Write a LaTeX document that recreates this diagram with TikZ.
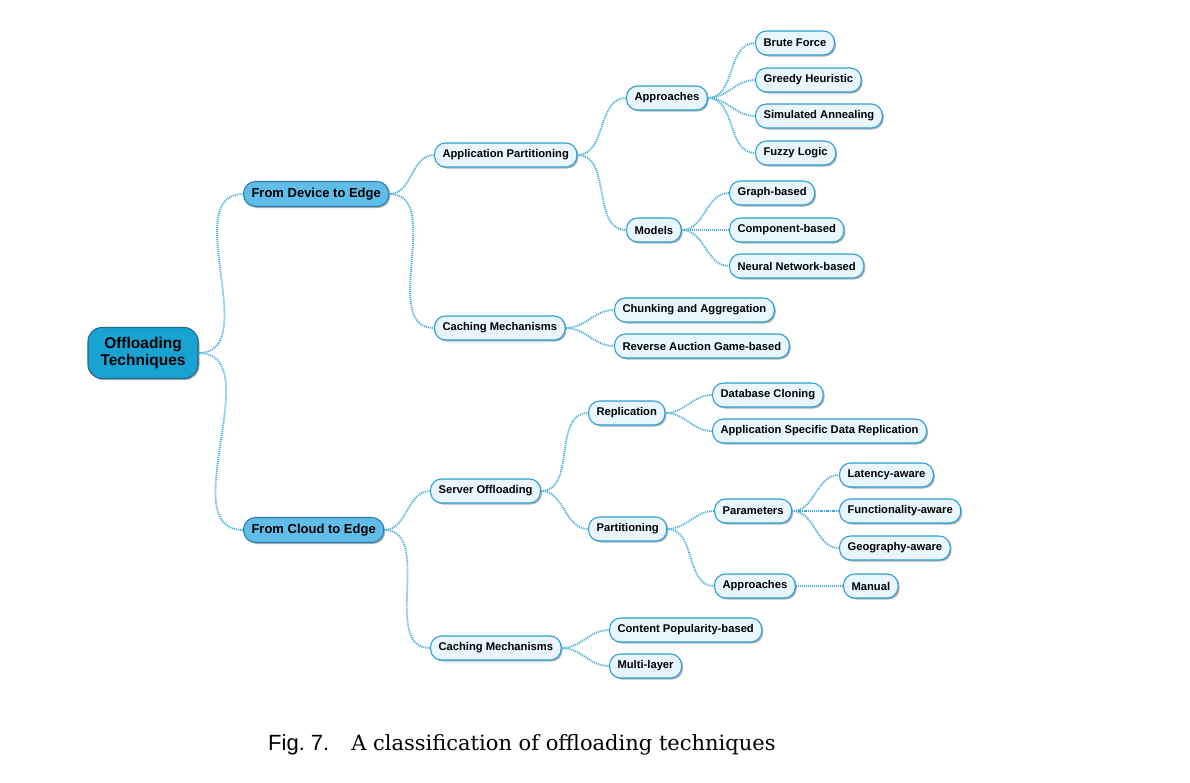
\documentclass[tikz,border=0pt]{standalone}
\usepackage{fontspec}
\setsansfont{Liberation Sans}
\newfontfamily\capserif{DejaVu Serif}
\usetikzlibrary{positioning,shadows}
\definecolor{linkblue}{HTML}{3AA8DC}
\definecolor{leafline}{HTML}{2B9FD6}
\definecolor{leaffill}{HTML}{EAF6FD}
\definecolor{midline}{HTML}{2A7EAE}
\definecolor{midfill}{HTML}{5FBDE8}
\definecolor{rootline}{HTML}{1F6688}
\definecolor{rootfill}{HTML}{18A3D3}

\begin{document}
\begin{tikzpicture}[x=1pt, y=-1pt,
  shade/.style={drop shadow={shadow xshift=1.5pt, shadow yshift=-1.5pt, opacity=0.3, fill=black}},
  leaf/.style={shade, draw=leafline, fill=leaffill, line width=1.1pt, rounded corners=11pt,
    minimum height=24pt, inner xsep=8pt, anchor=west, font=\sffamily\bfseries\fontsize{11.2}{13}\selectfont},
  branch/.style={shade, draw=midline, fill=midfill, line width=1.1pt, rounded corners=12pt,
    minimum height=25pt, inner xsep=8pt, anchor=west, font=\sffamily\bfseries\fontsize{13}{15}\selectfont},
  topic/.style={shade, draw=rootline, fill=rootfill, line width=1.1pt, rounded corners=14pt,
    minimum width=110pt, minimum height=51pt, align=center, font=\sffamily\bfseries\fontsize{15.5}{17}\selectfont},
  link/.style={draw=linkblue, line width=1.8pt, dash pattern=on 1pt off 1pt, out=0, in=180}]
\useasboundingbox (0,0) rectangle (1190,782);

% root and first level
\node[topic] (root) at (143,353) {Offloading\\Techniques};
\node[branch] (dev) at (243,194) {From Device to Edge};
\node[branch] (cld) at (243,530) {From Cloud to Edge};

% device to edge
\node[leaf] (apppart) at (434,155) {Application Partitioning};
\node[leaf] (devcache) at (434,328) {Caching Mechanisms};
\node[leaf] (appr) at (626,98) {Approaches};
\node[leaf] (models) at (626,230) {Models};
\node[leaf] (brute) at (755,43) {Brute Force};
\node[leaf] (greedy) at (755,80) {Greedy Heuristic};
\node[leaf] (anneal) at (755,116) {Simulated Annealing};
\node[leaf] (fuzzy) at (755,153) {Fuzzy Logic};
\node[leaf] (graph) at (729,193) {Graph-based};
\node[leaf] (comp) at (729,230) {Component-based};
\node[leaf] (neural) at (729,266) {Neural Network-based};
\node[leaf] (chunk) at (614,310) {Chunking and Aggregation};
\node[leaf] (auction) at (614,346) {Reverse Auction Game-based};

% cloud to edge
\node[leaf] (srvoff) at (430,491) {Server Offloading};
\node[leaf] (cldcache) at (430,648) {Caching Mechanisms};
\node[leaf] (repl) at (588,413) {Replication};
\node[leaf] (part) at (588,529) {Partitioning};
\node[leaf] (dbclone) at (712,395) {Database Cloning};
\node[leaf] (appspec) at (712,431) {Application Specific Data Replication};
\node[leaf] (params) at (714,511) {Parameters};
\node[leaf] (partappr) at (714,586) {Approaches};
\node[leaf] (latency) at (839,475) {Latency-aware};
\node[leaf] (func) at (839,511) {Functionality-aware};
\node[leaf] (geo) at (839,548) {Geography-aware};
\node[leaf] (manual) at (843,586) {Manual};
\node[leaf] (popular) at (609,630) {Content Popularity-based};
\node[leaf] (multi) at (609,666) {Multi-layer};

\path[link]
(root.east) edge (dev.west)
            edge (cld.west)
(dev.east) edge (apppart.west)
           edge (devcache.west)
(apppart.east) edge (appr.west)
               edge (models.west)
(appr.east) edge (brute.west)
            edge (greedy.west)
            edge (anneal.west)
            edge (fuzzy.west)
(models.east) edge (graph.west)
              edge (comp.west)
              edge (neural.west)
(devcache.east) edge (chunk.west)
                edge (auction.west);
\path[link]
(cld.east) edge (srvoff.west)
           edge (cldcache.west)
(srvoff.east) edge (repl.west)
              edge (part.west)
(repl.east) edge (dbclone.west)
            edge (appspec.west)
(part.east) edge (params.west)
            edge (partappr.west)
(params.east) edge (latency.west)
              edge (func.west)
              edge (geo.west)
(partappr.east) edge (manual.west)
(cldcache.east) edge (popular.west)
                edge (multi.west);

% caption
\node[anchor=west, inner sep=0pt] (caption) at (268,745) {{\sffamily\fontsize{22}{26}\selectfont Fig.~7.}\hspace{22pt}{\capserif\fontsize{21}{26}\selectfont A classification of offloading techniques}};
\end{tikzpicture}
\end{document}
